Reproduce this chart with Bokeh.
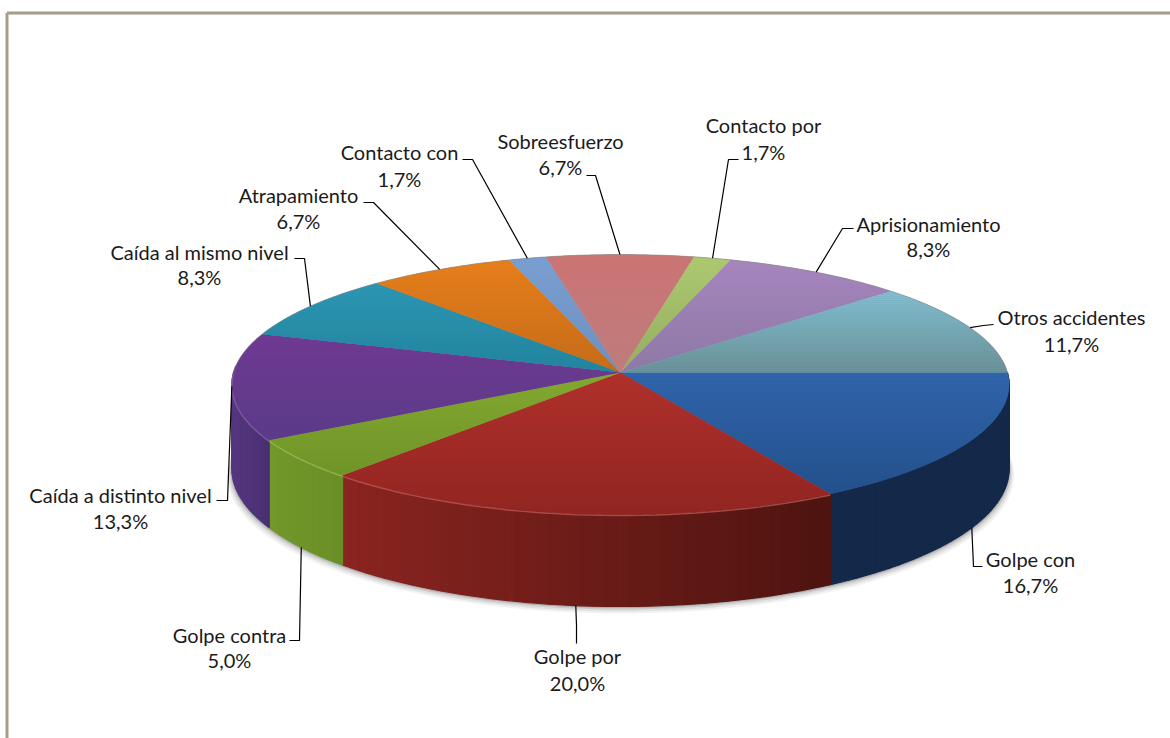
from bokeh.plotting import figure
from bokeh.models import ColumnDataSource
from bokeh.embed import file_html
from bokeh.resources import INLINE
from bokeh.core.properties import value
import math

# ---- data ----
categories = ["Golpe con", "Golpe por", "Golpe contra", "Caída a distinto nivel",
              "Caída al mismo nivel", "Atrapamiento", "Contacto con", "Sobreesfuerzo",
              "Contacto por", "Aprisionamiento", "Otros accidentes"]
shares = [16.7, 20.0, 5.0, 13.3, 8.3, 6.7, 1.7, 6.7, 1.7, 8.3, 11.7]

# ---- colours ----
top_light = ["#2f66ad", "#b2312c", "#84aa30", "#703a92", "#2b97b4", "#e8801c", "#7a9fd2",
             "#cb7474", "#aecb70", "#a886bf", "#80c0d4"]
top_dark = ["#244f88", "#8e2521", "#6f9229", "#5a3a88", "#23829c", "#c46a18", "#6f8fbd",
            "#bf7c7c", "#93ab62", "#8c78a4", "#6a8c92"]
side_left = ["#14294a", "#8a2420", "#72982a", "#54367f", "#222222", "#222222", "#222222",
             "#222222", "#222222", "#222222", "#222222"]
side_right = ["#14294a", "#4e1410", "#6a8e26", "#4a2f72", "#222222", "#222222", "#222222",
              "#222222", "#222222", "#222222", "#222222"]

# ---- layout ----
W, H = 1170, 738
CX, CY, RX = 620.0, 372.0, 387.0
B, A, DEPTH = 0.0923, 128.9, 83.5
BORDER = "#a59d88"
TEXT_SHIFT = -2

# label centre x, first line y, second line y, elbow x, elbow y, end x, end y; on_bottom rim
labels = [
    (1030, 560, 586, 973, 566, 982, 566, True),
    (577, 657, 684, 576, 625, 576, 643, True),
    (229, 636, 661, 299, 640, 289, 640, True),
    (120, 496, 522, 227, 500, 216, 500, False),
    (199, 253, 278, 304, 258, 294, 258, False),
    (298, 196, 222, 373, 202, 363, 202, False),
    (399, 153, 180, 472, 159, 462, 159, False),
    (560, 142, 168, 595, 175, 586, 175, False),
    (763, 126, 153, 728, 159, 738, 159, False),
    (928, 225, 250, 842, 228, 853, 228, False),
    (1071, 318, 345, 983, 325, 993, 324, False),
]


def project(t, r=1.0):
    u, v = r * math.cos(t), r * math.sin(t)
    k = 1 - B * v
    return CX + RX * u / k, CY + A * v / k


def drop(t):
    return DEPTH / (1 - B * math.sin(t))


def hex2rgb(c):
    return tuple(int(c[i:i + 2], 16) for i in (1, 3, 5))


def mix(c1, c2, f):
    f = max(0.0, min(1.0, f))
    a, b = hex2rgb(c1), hex2rgb(c2)
    return "#%02x%02x%02x" % tuple(round(a[i] + (b[i] - a[i]) * f) for i in range(3))


def clip_y(poly, y0, y1):
    def clip(points, inside, cross):
        out = []
        for i, p in enumerate(points):
            q = points[i - 1]
            if inside(p):
                if not inside(q):
                    out.append(cross(q, p))
                out.append(p)
            elif inside(q):
                out.append(cross(q, p))
        return out

    def at(level):
        return lambda p, q: (p[0] + (q[0] - p[0]) * (level - p[1]) / (q[1] - p[1]), level)

    res = clip(poly, lambda p: p[1] >= y0, at(y0))
    if res:
        res = clip(res, lambda p: p[1] <= y1, at(y1))
    return res


total = sum(shares)
edges = [0.0]
for s in shares:
    edges.append(edges[-1] + 2 * math.pi * s / total)

p = figure(width=W, height=H, x_range=(0, W), y_range=(H, 0), toolbar_location=None,
           output_backend="svg", min_border=0, outline_line_color=None)
p.axis.visible = False
p.grid.visible = False
p.background_fill_color = "#ffffff"
p.border_fill_color = "#ffffff"

# frame
p.line([6.5, 6.5], [12.5, H], line_color=BORDER, line_width=3)
p.line([6.5, W], [12.5, 12.5], line_color=BORDER, line_width=3)

# soft shadow under the pie
ts = [math.radians(a) for a in range(-6, 187, 2)]
for grow, alpha in [(7, 0.05), (5, 0.07), (3, 0.10), (1.5, 0.14)]:
    xs = [project(t)[0] + grow * 0.7 * math.cos(t) for t in ts]
    ys = [project(t)[1] + drop(t) + grow for t in ts]
    xs += [project(t)[0] for t in reversed(ts)]
    ys += [project(t)[1] for t in reversed(ts)]
    p.patch(xs, ys, fill_color="#000000", fill_alpha=alpha, line_color=None)

# side wall
wall = {"xs": [], "ys": [], "c": []}
for i, (a0, a1) in enumerate(zip(edges[:-1], edges[1:])):
    lo, hi = max(a0, math.radians(-3)), min(a1, math.radians(183))
    if hi <= lo:
        continue
    n = max(1, int(math.degrees(hi - lo) / 1.5))
    xa, xb = project(a0)[0], project(hi)[0]
    for k in range(n):
        t0, t1 = lo + (hi - lo) * k / n, lo + (hi - lo) * (k + 1) / n
        x0, y0 = project(t0)
        x1, y1 = project(t1)
        f = (xa - (x0 + x1) / 2) / (xa - xb) if xa != xb else 0
        wall["xs"].append([x0, x1, x1, x0])
        wall["ys"].append([y0, y1, y1 + drop(t1), y0 + drop(t0)])
        # the wall darkens from left to right across a slice
        wall["c"].append(mix(side_right[i], side_left[i], f))
p.patches("xs", "ys", source=ColumnDataSource(wall), fill_color="c", line_color="c", line_width=1.2)

# top face: base colour, then a vertical gradient in whole-pixel horizontal bands
base = {"xs": [], "ys": [], "c": []}
top = {"xs": [], "ys": [], "c": []}
STEP = 2
for i, (a0, a1) in enumerate(zip(edges[:-1], edges[1:])):
    n = max(2, int(math.degrees(a1 - a0)))
    poly = [(CX, CY)] + [project(a0 + (a1 - a0) * k / n) for k in range(n + 1)]
    base["xs"].append([q[0] for q in poly])
    base["ys"].append([q[1] for q in poly])
    base["c"].append(mix(top_light[i], top_dark[i], 0.5))
    ymin, ymax = min(q[1] for q in poly), max(q[1] for q in poly)
    y = float(math.floor(ymin))
    while y < ymax:
        band = clip_y(poly, y, y + STEP)
        if len(band) >= 3:
            top["xs"].append([q[0] for q in band])
            top["ys"].append([q[1] for q in band])
            top["c"].append(mix(top_light[i], top_dark[i], (y + 1 - ymin) / max(ymax - ymin, 1)))
        y += STEP
p.patches("xs", "ys", source=ColumnDataSource(base), fill_color="c", line_color=None)
p.patches("xs", "ys", source=ColumnDataSource(top), fill_color="c", line_color=None)

# bevel highlight on the front rim
for i in (1, 2, 3):
    t = [edges[i] + (edges[i + 1] - edges[i]) * k / 40 for k in range(41)]
    t = [a for a in t if a < math.radians(180)]
    p.line([project(a)[0] for a in t], [project(a)[1] + 1 for a in t],
           line_color=mix(top_light[i], "#ffffff", 0.22), line_width=1.5, line_alpha=0.7)
# thin grey edge along the back rim
t = [math.radians(a) for a in range(180, 361, 2)]
p.line([project(a)[0] for a in t], [project(a)[1] for a in t],
       line_color="#8a8a8a", line_width=1, line_alpha=0.6)

# leader lines and labels
txt = {"x": [], "y": [], "t": []}
for i, (lx, ly1, ly2, ex, ey, fx, fy, bottom) in enumerate(labels):
    mid = (edges[i] + edges[i + 1]) / 2
    sx, sy = project(mid)
    if bottom:
        sy += drop(mid)
    p.line([sx, ex, fx], [sy, ey, fy], line_color="#000000", line_width=1.2)
    txt["x"] += [lx, lx]
    txt["y"] += [ly1 + TEXT_SHIFT, ly2 + TEXT_SHIFT]
    txt["t"] += [categories[i], f"{shares[i]:.1f}%".replace(".", ",")]
p.text("x", "y", text="t", source=ColumnDataSource(txt), text_align="center", text_baseline="middle",
       text_font=value("Lato"), text_font_size="20px", text_color="#1a1a1a")

open("out.html", "w").write(file_html(p, INLINE))
